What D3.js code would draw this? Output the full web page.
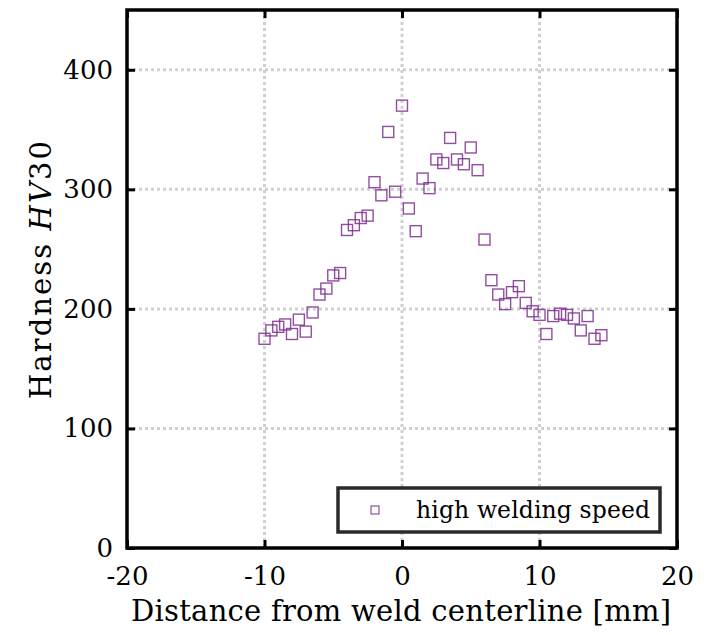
<!DOCTYPE html>
<html lang="en">

<head>
    <meta charset="UTF-8" />
    <title>Hardness</title>
    <style>
        body { margin: 0; background: #fff; }
        text { font-family: "DejaVu Serif", serif; }
    </style>
</head>

<body>
    <div id="container"></div>
</body>
<script src="https://cdnjs.cloudflare.com/ajax/libs/d3/7.1.1/d3.min.js"></script>
<script>
    // data
    const distance = [-10, -9.5, -9, -8.5, -8, -7.5, -7, -6.5, -6, -5.5, -5, -4.5, -4, -3.5, -3, -2.5,
        -2, -1.5, -1, -0.5, 0, 0.5, 1, 1.5, 2, 2.5, 3, 3.5, 4, 4.5, 5, 5.5, 6,
        6.5, 7, 7.5, 8, 8.5, 9, 9.5, 10, 10.5, 11, 11.5, 12, 12.5, 13, 13.5, 14, 14.5]
    const hardness = [175, 182, 185, 187, 179, 191, 181, 197, 212, 217, 228, 230, 266, 270, 276, 278,
        306, 295, 348, 298, 370, 284, 265, 309, 301, 325, 322, 343, 325, 321, 335, 316, 258,
        224, 212, 204, 214, 219, 205, 198, 195, 179, 194, 196, 195, 192, 182, 194, 175, 178]
    const xTicks = [-20, -10, 0, 10, 20]
    const yTicks = [0, 100, 200, 300, 400]
    const seriesName = 'high welding speed'

    const W = 706, H = 635
    const m = { left: 127, right: 29, top: 10, bottom: 87 }
    const iw = W - m.left - m.right, ih = H - m.top - m.bottom
    const purple = '#7e2f8e'
    const font = '"DejaVu Serif", serif'

    let x = d3.scaleLinear().domain([-20, 20]).range([0, iw])
    let y = d3.scaleLinear().domain([0, 450]).range([ih, 0])

    let svg = d3.select('#container').append('svg').attr('width', W).attr('height', H)
    let g = svg.append('g').attr('transform', `translate(${m.left},${m.top})`)

    // grid
    g.append('g').selectAll('line').data(xTicks.slice(1, -1)).enter().append('line')
        .attr('x1', d => x(d)).attr('x2', d => x(d)).attr('y1', 0).attr('y2', ih)
        .attr('stroke', '#d0d0d0').attr('stroke-width', 3).attr('stroke-dasharray', '3,3')
    g.append('g').selectAll('line').data(yTicks.slice(1)).enter().append('line')
        .attr('y1', d => y(d)).attr('y2', d => y(d)).attr('x1', 0).attr('x2', iw)
        .attr('stroke', '#d0d0d0').attr('stroke-width', 3).attr('stroke-dasharray', '3,3')

    // axes with inward ticks
    let axB = g.append('g').attr('transform', `translate(0,${ih})`)
        .call(d3.axisBottom(x).tickValues(xTicks).tickSize(-8).tickPadding(19).tickFormat(d3.format('d')))
    let axT = g.append('g').call(d3.axisTop(x).tickValues(xTicks).tickSize(-8).tickFormat(''))
    let axL = g.append('g')
        .call(d3.axisLeft(y).tickValues(yTicks).tickSize(-8).tickPadding(14).tickFormat(d3.format('d')))
    let axR = g.append('g').attr('transform', `translate(${iw},0)`)
        .call(d3.axisRight(y).tickValues(yTicks).tickSize(-8).tickFormat(''))
    for (const a of [axB, axT, axL, axR]) {
        a.select('.domain').remove()
        a.selectAll('line').attr('stroke', '#000').attr('stroke-width', 3)
        a.selectAll('text').attr('font-size', 26).attr('fill', '#000').style('font-family', font)
    }
    axB.selectAll('text').text(d => d < 0 ? '-' + Math.abs(d) : d)

    // frame
    g.append('rect').attr('width', iw).attr('height', ih)
        .attr('fill', 'none').attr('stroke', '#000').attr('stroke-width', 3.5)

    // points
    let pts = distance.map((d, i) => ({ x: d, y: hardness[i] }))
    const s = 11
    g.append('g').selectAll('rect').data(pts).enter().append('rect')
        .attr('x', d => x(d.x) - s / 2).attr('y', d => y(d.y) - s / 2)
        .attr('width', s).attr('height', s)
        .attr('fill', 'none').attr('stroke', purple).attr('stroke-width', 1.4).attr('stroke-opacity', 0.85)

    // legend
    let lg = g.append('g').attr('transform', `translate(${211},${478})`)
    lg.append('rect').attr('width', 322).attr('height', 44)
        .attr('fill', '#fff').attr('stroke', '#2a2a2a').attr('stroke-width', 3.5)
    lg.append('rect').attr('x', 33).attr('y', 18).attr('width', 8).attr('height', 8)
        .attr('fill', 'none').attr('stroke', purple).attr('stroke-width', 1)
    lg.append('text').attr('x', 78).attr('y', 30).attr('font-size', 23.5).style('font-family', font)
        .attr('textLength', 234).attr('lengthAdjust', 'spacing').text(seriesName)

    // axis labels
    svg.append('text').attr('x', 401).attr('y', 621).attr('text-anchor', 'middle')
        .attr('font-size', 29).style('font-family', font)
        .attr('textLength', 540).attr('lengthAdjust', 'spacing')
        .text('Distance from weld centerline [mm]')
    let yl = svg.append('text').attr('transform', `translate(51,270) rotate(-90)`)
        .attr('text-anchor', 'middle').attr('font-size', 29).style('font-family', font)
        .attr('textLength', 258).attr('lengthAdjust', 'spacing')
    yl.append('tspan').text('Hardness ')
    yl.append('tspan').attr('font-style', 'italic').text('HV')
    yl.append('tspan').text('30')
</script>

</html>
